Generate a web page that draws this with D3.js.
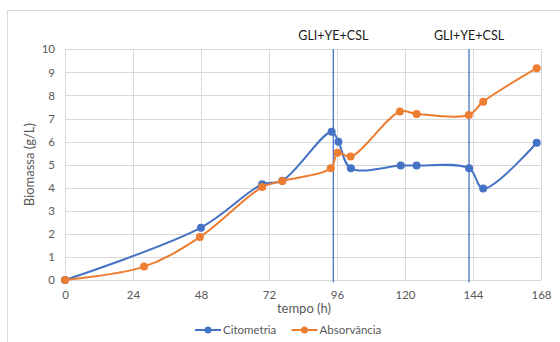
<!DOCTYPE html>
<html>
<head>
<meta charset="utf-8">
<script src="https://cdn.jsdelivr.net/npm/d3@7"></script>
<style>
  html, body { margin: 0; padding: 0; background: #fff; }
  svg { display: block; font-family: Lato, "Open Sans", sans-serif; }
</style>
</head>
<body>
<svg id="chart" width="560" height="342"></svg>
<script>
// Biomass over time, measured by two methods
const citoTime = [0, 48, 69.6, 76.7, 94.1, 96.5, 100.9, 118.5, 124.1, 142.6, 147.6, 166.5];
const citoValues = [0, 2.27, 4.15, 4.3, 6.43, 5.99, 4.84, 4.96, 4.96, 4.84, 3.97, 5.95];

const absTime = [0, 27.9, 47.6, 69.6, 76.7, 93.8, 96.2, 100.8, 118.2, 124.1, 142.5, 147.6, 166.5];
const absValues = [0, 0.58, 1.86, 4.03, 4.29, 4.84, 5.52, 5.35, 7.30, 7.20, 7.15, 7.73, 9.18];

// Feeding events (glycerol + yeast extract + corn steep liquor)
const feedTimes = [94.7, 142.6];
const feedLabels = ["GLI+YE+CSL", "GLI+YE+CSL"];

const xTicks = [0, 24, 48, 72, 96, 120, 144, 168];
const yTicks = [0, 1, 2, 3, 4, 5, 6, 7, 8, 9, 10];

const seriesNames = ["Citometria", "Absorvância"];
const seriesColors = ["#4472C4", "#ED7D31"];

const svg = d3.select("#chart");
const W = 560, H = 342;

// Chart frame
svg.append("rect")
  .attr("x", 7.5).attr("y", 10.5)
  .attr("width", W + 10).attr("height", H + 10)
  .attr("fill", "#fff").attr("stroke", "#d9d9d9").attr("stroke-width", 1);

const x = d3.scaleLinear().domain([0, 168]).range([65, 541]);
const y = d3.scaleLinear().domain([0, 10]).range([280, 49.3]);

// Gridlines
const grid = svg.append("g").attr("stroke", "#d9d9d9").attr("stroke-width", 1);
grid.selectAll("line.h").data(yTicks).join("line")
  .attr("class", "h")
  .attr("x1", x(0)).attr("x2", x(168))
  .attr("y1", d => Math.round(y(d)) + 0.5).attr("y2", d => Math.round(y(d)) + 0.5);
grid.selectAll("line.v").data(xTicks).join("line")
  .attr("class", "v")
  .attr("y1", y(0)).attr("y2", y(10))
  .attr("x1", d => Math.round(x(d)) + 0.5).attr("x2", d => Math.round(x(d)) + 0.5);

// Axes (labels only; lines are the gridlines)
const xAxis = svg.append("g")
  .attr("transform", `translate(0,${y(0)})`)
  .call(d3.axisBottom(x).tickValues(xTicks).tickSize(0).tickPadding(11));
const yAxis = svg.append("g")
  .attr("transform", `translate(${x(0)},0)`)
  .call(d3.axisLeft(y).tickValues(yTicks).tickSize(0).tickPadding(10));
[xAxis, yAxis].forEach(a => {
  a.select(".domain").remove();
  a.selectAll("text")
    .attr("fill", "#595959")
    .style("font-family", "Lato, 'Open Sans', sans-serif")
    .style("font-size", "11.5px");
});

// Axis titles
svg.append("text")
  .attr("x", 304).attr("y", 313)
  .attr("text-anchor", "middle")
  .attr("fill", "#595959").style("font-size", "13px")
  .text("tempo (h)");
svg.append("text")
  .attr("transform", `translate(34,${(y(0) + y(10)) / 2}) rotate(-90)`)
  .attr("text-anchor", "middle")
  .attr("fill", "#595959").style("font-size", "13px")
  .text("Biomassa (g/L)");

// Feed markers
svg.selectAll("line.feed").data(feedTimes).join("line")
  .attr("class", "feed")
  .attr("x1", d => x(d)).attr("x2", d => x(d))
  .attr("y1", y(10)).attr("y2", y(-0.1))
  .attr("stroke", "#4472C4").attr("stroke-width", 1.3);
svg.selectAll("text.feed").data(feedTimes).join("text")
  .attr("class", "feed")
  .attr("x", d => x(d)).attr("y", 40)
  .attr("text-anchor", "middle")
  .attr("fill", "#1a1a1a").style("font-size", "12.5px")
  .text((d, i) => feedLabels[i]);

// Series
const series = [
  { name: seriesNames[0], color: seriesColors[0], pts: citoTime.map((t, i) => [t, citoValues[i]]) },
  { name: seriesNames[1], color: seriesColors[1], pts: absTime.map((t, i) => [t, absValues[i]]) }
];

const line = d3.line()
  .x(d => x(d[0])).y(d => y(d[1]))
  .curve(d3.curveCatmullRom.alpha(0.5));

series.forEach(s => {
  const g = svg.append("g");
  g.append("path")
    .attr("d", line(s.pts))
    .attr("fill", "none").attr("stroke", s.color)
    .attr("stroke-width", 2).attr("stroke-linejoin", "round");
  g.selectAll("circle").data(s.pts).join("circle")
    .attr("cx", d => x(d[0])).attr("cy", d => y(d[1]))
    .attr("r", 4).attr("fill", s.color);
});

// Legend
const legendX = [195, 291.5];
const legend = svg.selectAll("g.legend").data(series).join("g")
  .attr("class", "legend")
  .attr("transform", (d, i) => `translate(${legendX[i]},330)`);
legend.append("line")
  .attr("x1", 0).attr("x2", 26).attr("y1", 0).attr("y2", 0)
  .attr("stroke", d => d.color).attr("stroke-width", 2);
legend.append("circle")
  .attr("cx", 13).attr("cy", 0).attr("r", 3.5)
  .attr("fill", d => d.color);
legend.append("text")
  .attr("x", 28).attr("y", 4)
  .attr("fill", "#595959").style("font-size", "11.5px")
  .text(d => d.name);
</script>
</body>
</html>
